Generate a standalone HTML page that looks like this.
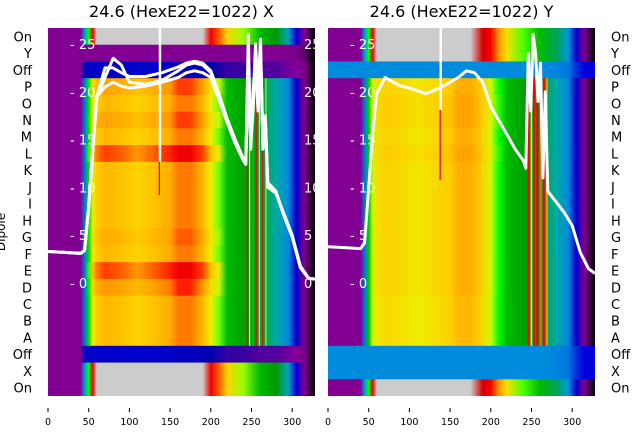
<!DOCTYPE html>
<html><head><meta charset="utf-8">
<style>
body{margin:0;background:#fff;width:640px;height:440px;overflow:hidden;font-family:"Liberation Sans","DejaVu Sans",sans-serif}
svg text{font-family:"DejaVu Sans","Liberation Sans",sans-serif}
</style></head>
<body>
<svg id="c" width="640" height="440" viewBox="0 0 640 440"></svg>
<script>
// ---- data ----
const rowNames = ["On","Y","Off","P","O","N","M","L","K","J","I","H","G","F","E","D","C","B","A","Off","X","On"];
const xStops = [0,40,45,50,55,60,70,90,110,130,150,160,175,190,200,210,220,240,260,280,295,305,315,328];
const mainProfile = [0.08,0.08,0.25,0.55,0.7,0.75,0.77,0.76,0.74,0.76,0.78,0.81,0.81,0.77,0.7,0.63,0.5,0.46,0.43,0.36,0.28,0.18,0.08,0.0];
const onProfileX = [0.08,0.08,0.3,0.6,0.88,1,1,1,1,1,1,1,1,1,0.88,0.82,0.74,0.64,0.5,0.45,0.33,0.2,0.08,0.0];
const onProfileY = [0.08,0.08,0.3,0.6,0.88,1,1,1,1,1,1,1,1,0.93,0.86,0.8,0.72,0.62,0.5,0.42,0.3,0.18,0.08,0.0];
const offProfileX = [0.08,0.08,0.17,0.18,0.18,0.18,0.18,0.18,0.18,0.18,0.18,0.17,0.17,0.16,0.15,0.14,0.13,0.13,0.12,0.12,0.11,0.1,0.06,0.0];
const offProfileY = [0.28,0.28,0.28,0.28,0.28,0.28,0.28,0.28,0.28,0.28,0.28,0.28,0.28,0.28,0.28,0.28,0.28,0.28,0.28,0.27,0.25,0.22,0.2,0.2];
const purpleProfile = [0.08,0.08,0.08,0.08,0.08,0.08,0.08,0.08,0.08,0.08,0.08,0.08,0.08,0.08,0.08,0.08,0.08,0.08,0.08,0.08,0.07,0.06,0.04,0.0];
const rowBoostX = [0.02,0.0,0.02,0.0,0.06,0.0,0.0,0.0,0.0,0.01,0.0,0.06,0.03,0.0,0.0,0.0];
const rowBoostY = [-0.03,-0.02,-0.02,-0.03,-0.02,-0.03,-0.03,-0.03,-0.03,-0.03,-0.03,-0.03,-0.03,-0.04,-0.04,-0.04];
const curveX = [0,20,40,45,50,55,60,70,80,90,100,120,140,160,170,180,190,200,210,220,230,240,243,246,249,252,255,258,261,264,267,270,280,290,300,310,320,328];
const curveX1 = [3.3,3.2,3.1,3.4,8,14,19.5,21.5,23.5,22.8,21,20.8,21.2,22.2,22.8,23,22.8,22,19.5,17,14.8,12.8,12.4,26,14,19,25,20,25.5,14,17.5,10.5,9.6,7,4.8,1.6,0.5,0.4];
const curveX2 = [3.3,3.2,3.1,3.4,8,14,19.5,20.5,21,20.6,20.4,20.6,21.0,21.5,22,22.2,22,21.5,19.2,16.8,14.6,12.8,12.6,24,15,20,23,18,24,15,17,10,9.4,7.2,5,1.8,0.5,0.4];
const curveX3 = [3.3,3.2,3.1,3.4,8,14,19.5,22.5,22.5,22,21.6,21.6,22,22.6,23,23.2,23,22.2,19.8,17.2,15,13,12.6,22,14.5,18,24.5,19,25,14.5,17,10.2,9.5,7,4.9,1.7,0.5,0.4];
const curveY = [3.8,3.7,3.6,4.2,10,16,19.8,21.5,21,20.6,20.4,19.8,20.5,21.5,22.2,22,21,18.5,17,15.5,14,12.8,12,24,18,26,24,19,23,11,20,9.6,8.5,7.4,6,3.2,1.5,1.0];
const xTicks = [0,50,100,150,200,250,300];
const yTicks = [0,5,10,15,20,25];

const cm=[[0,0,0],[.467,0,.533],[.533,0,.6],[0,0,.667],[0,0,.867],[0,.467,.867],[0,.6,.867],[0,.667,.667],[0,.667,.533],[0,.6,0],[0,.733,0],[0,.867,0],[0,1,0],[.733,1,0],[.933,.933,0],[1,.8,0],[1,.6,0],[1,0,0],[.867,0,0],[.8,0,0],[.8,.8,.8]];
function cmap(v){v=Math.max(0,Math.min(1,v));const f=v*20,i=Math.min(19,Math.floor(f)),t=f-i;const a=cm[i],b=cm[i+1];
return "rgb("+[0,1,2].map(k=>Math.round(255*(a[k]+(b[k]-a[k])*t))).join(",")+")";}

const NS="http://www.w3.org/2000/svg";
const svgRoot=document.getElementById("c");
const defs=document.createElementNS(NS,"defs");svgRoot.appendChild(defs);
function el(t,a,p){const e=document.createElementNS(NS,t);for(const k in a)e.setAttribute(k,a[k]);(p||svgRoot).appendChild(e);return e;}

const plotTop=28, plotBot=396, NR=rowNames.length, rowH=(plotBot-plotTop)/NR, units=328;
let gid=0;
function gradFor(profile,boost){
  const id="g"+(gid++);
  const g=el("linearGradient",{id:id,x1:"0",x2:"1",y1:"0",y2:"0"},defs);
  xStops.forEach((x,i)=>{let v=profile[i];if(v>0.5&&v<0.99)v+=boost;el("stop",{offset:(x/units),"stop-color":cmap(v)},g);});
  return id;
}
function drawPanel(x0,title,isY){
  const w=267;
  const xs=v=>x0+v*w/units, ys=v=>283-v*9.56;
  const g=el("g",{});
  
  
  const clipId="clip"+x0;
  const cp=el("clipPath",{id:clipId},defs);el("rect",{x:x0,y:plotTop,width:w,height:plotBot-plotTop},cp);
  g.setAttribute("clip-path","url(#"+clipId+")");
  for(let r=0;r<NR;r++){
    const n=rowNames[r];let prof,boost=0;
    if(n==="On"){prof=isY?onProfileY:onProfileX;}
    else if(n==="Y"){prof=isY?onProfileY:purpleProfile;}
    else if(n==="X"){prof=isY?offProfileY:onProfileX;}
    else if(n==="Off"){prof=isY?offProfileY:offProfileX;}
    else {prof=mainProfile;boost=(isY?rowBoostY:rowBoostX)[r-3]||0;}
    const id=gradFor(prof,boost);
    const rc=el("rect",{x:x0,y:plotTop+r*rowH,width:w,height:rowH+0.6,fill:"url(#"+id+")"},g);
    
    
  }
  const stripes=isY?[[245,"#f00",2],[249,"#ff0",1.5],[252,"#f00",2],[256,"#e00",2],[260,"#f60",2],[264,"#f00",2],[268,"#fa0",1.5]]
                   :[[244,"#f00",1.2],[247,"#ff0",1.2],[251,"#0c0",1.2],[255,"#f00",1.2],[259,"#ee0",1.2],[263,"#f00",1.2],[267,"#9f0",1.2]];
  stripes.forEach(s=>{
    const ln=el("rect",{x:xs(s[0]),y:plotTop+3*rowH,width:s[2],height:16*rowH,fill:s[1]},g);
    
    
  });
  if(isY){
    el("rect",{x:xs(137),y:110,width:1.3,height:70,fill:"#e00"},g);
    el("rect",{x:xs(137),y:plotTop,width:2.5,height:82,fill:"#fff"},g);
  } else {
    el("rect",{x:xs(136),y:160,width:1.3,height:35,fill:"#e00"},g);
    el("rect",{x:xs(136),y:plotTop,width:2.5,height:134,fill:"#fff"},g);
  }
  const curves=isY?[curveY]:[curveX1,curveX2,curveX3];
  curves.forEach((cv,ci)=>{
    const d=cv.map((v,i)=>(i?"L":"M")+xs(curveX[i]).toFixed(1)+","+ys(v).toFixed(1)).join(" ");
    const p=el("path",{d:d,fill:"none",stroke:"#fff","stroke-width":3,"stroke-linejoin":"round"},g);
    
    
  });
  yTicks.forEach(t=>{
    const tx=el("text",{x:x0+22,y:ys(t)+5,fill:"#fff","font-size":13},g);tx.textContent="- "+t;
    
    
    if(!isY){const t2=el("text",{x:x0+256,y:ys(t)+5,fill:"#fff","font-size":13},g);t2.textContent=""+t;
    
    }
  });
  const tt=el("text",{x:x0+w/2,y:17,"text-anchor":"middle","font-size":16,fill:"#000"});tt.textContent=title;
  
  
  xTicks.forEach(t=>{
    el("line",{x1:xs(t),x2:xs(t),y1:408,y2:412,stroke:"#000","stroke-width":1});
    const tx=el("text",{x:xs(t),y:425,"text-anchor":"middle","font-size":9.5,fill:"#000"});tx.textContent=t;
    
    
  });
}
drawPanel(48,"24.6 (HexE22=1022) X",false);
drawPanel(328,"24.6 (HexE22=1022) Y",true);
rowNames.forEach((s,i)=>{
  const y=plotTop+(i+0.5)*rowH+5;
  const a=el("text",{x:32,y:y,"text-anchor":"end","font-size":13,fill:"#000"});a.textContent=s;
  
  
  const b=el("text",{x:611,y:y,"font-size":13,fill:"#000"});b.textContent=s;
  
  
});
const yl=el("text",{x:0,y:0,transform:"translate(5,232) rotate(-90)","text-anchor":"middle","font-size":12,fill:"#000"});yl.textContent="Dipole";


</script>
</body></html>
